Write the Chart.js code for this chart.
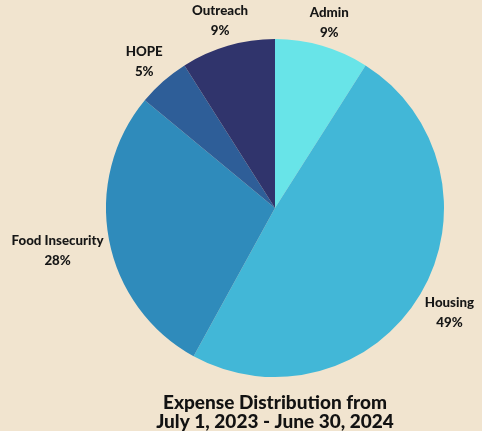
<!DOCTYPE html>
<html>
<head>
<meta charset="utf-8">
<script src="https://cdn.jsdelivr.net/npm/chart.js@4.4.0/dist/chart.umd.min.js"></script>
<style>
  html, body { margin: 0; padding: 0; background: #f1e4cf; }
  #wrap { width: 482px; height: 431px; position: relative; }
</style>
</head>
<body>
<div id="wrap"><canvas id="expense-pie"></canvas></div>
<script>
const categories = ['Admin', 'Housing', 'Food Insecurity', 'HOPE', 'Outreach'];
const percents = [9, 49, 28, 5, 9];
const sliceColors = ['#68e4e8', '#42b7d7', '#2f8bbb', '#2e5e98', '#30346c'];
const titleLines = ['Expense Distribution from', 'July 1, 2023 - June 30, 2024'];

const $$ = el => document.getElementById(el);

// draws "name / pct%" outside each slice, pushed out by the text box size
const outsideLabels = {
    id: 'outsideLabels',
    afterDatasetsDraw(chart) {
        const ctx = chart.ctx;
        const meta = chart.getDatasetMeta(0);
        const fontSize = 13.3;
        const lineGap = 20;
        ctx.save();
        ctx.font = '900 ' + fontSize + 'px Lato';
        ctx.fillStyle = '#161616';
        ctx.textAlign = 'center';
        ctx.textBaseline = 'middle';
        meta.data.forEach((arc, i) => {
            const p = arc.getProps(['x', 'y', 'startAngle', 'endAngle', 'outerRadius'], true);
            const mid = (p.startAngle + p.endAngle) / 2;
            const dx = Math.cos(mid), dy = Math.sin(mid);
            const lines = [categories[i], percents[i] + '%'];
            const hw = Math.max(...lines.map(t => ctx.measureText(t).width)) / 2;
            const hh = (lineGap + fontSize) / 2;
            const r = p.outerRadius + 4 + Math.abs(dx) * hw + Math.abs(dy) * hh;
            const cx = p.x + dx * r, cy = p.y + dy * r;
            ctx.fillText(lines[0], cx, cy - lineGap / 2 + 1.5);
            ctx.fillText(lines[1], cx, cy + lineGap / 2 + 1.5);
        });
        ctx.restore();
    }
};

const chart = new Chart($$('expense-pie'), {
    type: 'pie',
    data: {
        labels: categories,
        datasets: [{
            data: percents,
            backgroundColor: sliceColors,
            borderWidth: 0,
            radius: 169
        }]
    },
    options: {
        responsive: true,
        maintainAspectRatio: false,
        animation: false,
        layout: {
            padding: { top: 40, left: 88, right: 20, bottom: 0 }
        },
        plugins: {
            legend: { display: false },
            tooltip: { enabled: false },
            title: {
                display: true,
                position: 'bottom',
                text: titleLines,
                color: '#121212',
                font: { family: 'Lato', size: 19, weight: '900', lineHeight: 0.97 },
                padding: { top: 18, bottom: 0 }
            }
        }
    },
    plugins: [outsideLabels]
});
</script>
</body>
</html>
